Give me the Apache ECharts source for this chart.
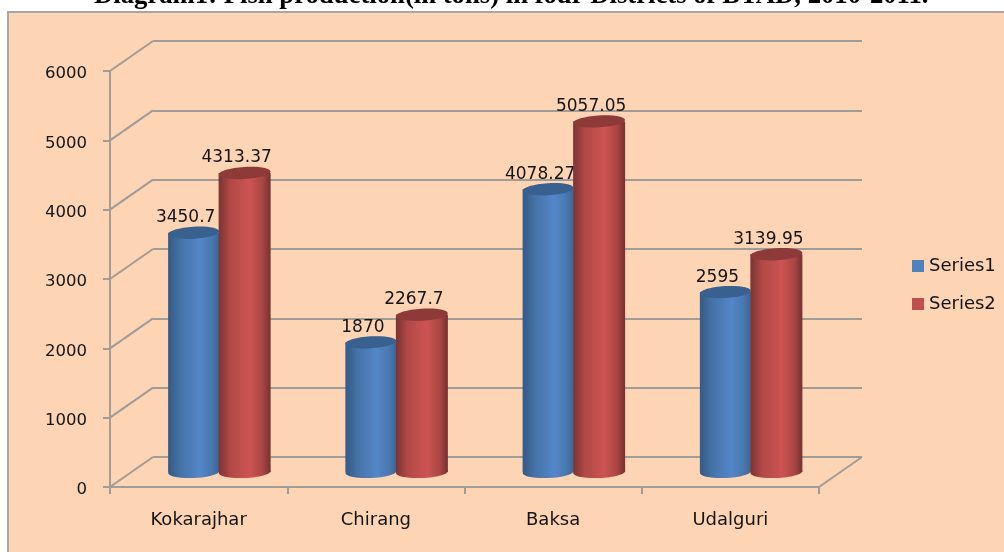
<!DOCTYPE html>
<html>
<head>
<meta charset="utf-8">
<title>Fish production</title>
<script src="https://cdn.jsdelivr.net/npm/echarts@6/dist/echarts.min.js"></script>
<style>
	html, body { margin: 0; padding: 0; background: #fff; }
	#chart { width: 1004px; height: 552px; filter: blur(0.4px); }
</style>
</head>
<body>
<div id="chart"></div>
<script>
const titleText = 'Diagram1: Fish production(in tons) in four Districts of BTAD, 2010-2011.';
const categories = ['Kokarajhar', 'Chirang', 'Baksa', 'Udalguri'];
const series1 = [3450.7, 1870, 4078.27, 2595];
const series2 = [4313.37, 2267.7, 5057.05, 3139.95];
const yTicks = [0, 1000, 2000, 3000, 4000, 5000, 6000];

const font = '"DejaVu Sans", sans-serif';
const textCol = '#141414';
const lineCol = '#a09c98';
// how far the back wall sits from the front plane
const depthX = 43, depthY = 30;

let myChart = echarts.init(document.getElementById('chart'));

function walls(params, api) {
	let cs = params.coordSys;
	let y = api.coord([0, api.value(1)])[1];
	let children = [{
		type: 'line',
		shape: { x1: cs.x, y1: y, x2: cs.x + depthX, y2: y - depthY },
		style: { stroke: lineCol, lineWidth: 2 }
	}];
	if (api.value(1) == 0) {
		children.push({
			type: 'line',
			shape: { x1: cs.x + cs.width, y1: y, x2: cs.x + cs.width + depthX, y2: y - depthY },
			style: { stroke: lineCol, lineWidth: 2 }
		});
	}
	return { type: 'group', children: children };
}

// a cylinder standing half way back on the floor
function cylinder(shift, halfW, stops, topCol) {
	return function(params, api) {
		let base = api.coord([api.value(0), 0]);
		let top = api.coord([api.value(0), api.value(1)]);
		let cx = base[0] + shift;
		let y0 = base[1] - 15;
		let y1 = top[1] - 15;
		let fill = new echarts.graphic.LinearGradient(0, 0, 1, 0, stops);
		return {
			type: 'group',
			children: [{
				type: 'ellipse',
				shape: { cx: cx, cy: y0, rx: halfW, ry: 6 },
				originX: cx, originY: y0, rotation: 0.04,
				style: { fill: fill }
			}, {
				type: 'rect',
				shape: { x: cx - halfW, y: y1, width: halfW * 2, height: y0 - y1 },
				style: { fill: fill }
			}, {
				type: 'ellipse',
				shape: { cx: cx, cy: y1, rx: halfW, ry: 6 },
				originX: cx, originY: y1, rotation: 0.06,
				style: { fill: topCol }
			}, {
				type: 'text',
				style: {
					text: String(api.value(1)),
					x: cx - 8, y: y1 - 15,
					align: 'center', verticalAlign: 'middle',
					fill: textCol, font: '17px ' + font
				}
			}]
		};
	};
}

const blueStops = [
	{ offset: 0, color: '#345a87' }, { offset: 0.25, color: '#4673a8' },
	{ offset: 0.62, color: '#5387c8' }, { offset: 0.85, color: '#4a78b0' },
	{ offset: 1, color: '#3b6594' }
];
const redStops = [
	{ offset: 0, color: '#7a3433' }, { offset: 0.22, color: '#b04846' },
	{ offset: 0.6, color: '#cd5452' }, { offset: 0.85, color: '#a84543' },
	{ offset: 1, color: '#753130' }
];

let option = {
	animation: false,
	backgroundColor: '#fff',
	title: {
		text: titleText, left: 89, top: -22,
		textStyle: { fontFamily: '"Liberation Serif", serif', fontWeight: 'bold', fontSize: 26.7, color: '#000' }
	},
	graphic: [{
		type: 'rect', z: -10,
		shape: { x: 8, y: 12, width: 1010, height: 560 },
		style: { fill: '#fdd4b4', stroke: '#a6a6a6', lineWidth: 2 }
	}],
	legend: {
		data: ['Series1', 'Series2'], orient: 'vertical',
		left: 907, top: 252, itemWidth: 12, itemHeight: 12, itemGap: 20,
		icon: 'rect',
		textStyle: { fontFamily: font, fontSize: 18, color: textCol }
	},
	grid: [
		{ left: 110, right: 185, top: 71, bottom: 65 },
		{ left: 153, right: 142, top: 41, bottom: 95 }
	],
	xAxis: [{
		type: 'category', data: categories, gridIndex: 0,
		axisLine: { lineStyle: { color: lineCol, width: 2 } },
		axisTick: { show: true, length: 7, alignWithLabel: false, lineStyle: { color: lineCol, width: 2 } },
		axisLabel: { color: textCol, fontFamily: font, fontSize: 18, margin: 24 }
	}, {
		type: 'category', data: categories, gridIndex: 1, show: false
	}],
	yAxis: [{
		type: 'value', min: 0, max: 6000, interval: 1000, gridIndex: 0,
		axisLine: { show: true, lineStyle: { color: lineCol, width: 2 } },
		axisTick: { show: true, length: 7, lineStyle: { color: lineCol, width: 2 } },
		axisLabel: { color: textCol, fontFamily: font, fontSize: 16.5, margin: 23, verticalAlign: 'top', lineHeight: 6, formatter: v => String(v) },
		splitLine: { show: false }
	}, {
		type: 'value', min: 0, max: 6000, interval: 1000, gridIndex: 1,
		axisLine: { show: false }, axisTick: { show: false }, axisLabel: { show: false },
		splitLine: { show: true, lineStyle: { color: lineCol, width: 2 } }
	}],
	series: [{
		type: 'custom', name: 'walls', silent: true, clip: false,
		renderItem: walls,
		data: yTicks.map(v => [0, v])
	}, {
		type: 'custom', name: 'Series1', clip: false,
		itemStyle: { color: '#4f81bd' },
		renderItem: cylinder(-5, 25.5, blueStops, '#39618f'),
		data: series1.map((v, i) => [i, v])
	}, {
		type: 'custom', name: 'Series2', clip: false,
		itemStyle: { color: '#c0504d' },
		renderItem: cylinder(46, 26, redStops, '#8d3a39'),
		data: series2.map((v, i) => [i, v])
	}]
};
option && myChart.setOption(option);
</script>
</body>
</html>
